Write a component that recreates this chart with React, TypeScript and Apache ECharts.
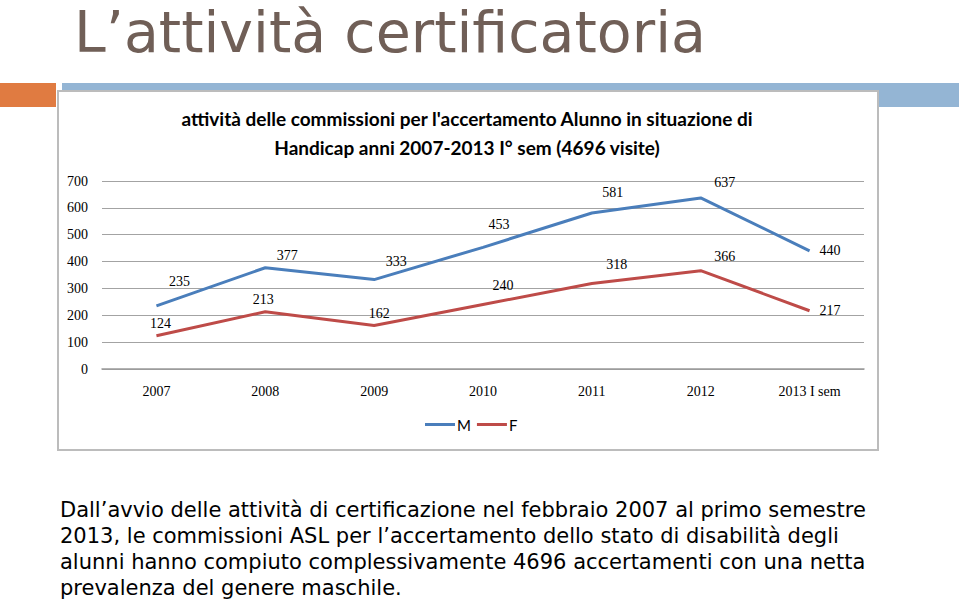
import React, { useEffect, useRef } from "react";
import * as echarts from "echarts";

const categories = ["2007", "2008", "2009", "2010", "2011", "2012", "2013 I sem"];
const valuesM = [235, 377, 333, 453, 581, 637, 440];
const valuesF = [124, 213, 162, 240, 318, 366, 217];
const seriesNames = ["M", "F"];
const yTicks = { min: 0, max: 700, interval: 100 };

const slideTitle = "L\u2019attivit\u00e0 certificatoria";
const chartTitleLines = [
  "attivit\u00e0 delle commissioni per l'accertamento Alunno in situazione di",
  "Handicap anni 2007-2013 I\u00b0 sem (4696 visite)",
];
const bodyLines = [
  "Dall\u2019avvio delle attivit\u00e0 di certificazione nel febbraio 2007 al primo semestre",
  "2013, le commissioni ASL per l\u2019accertamento dello stato di disabilit\u00e0 degli",
  "alunni hanno compiuto complessivamente 4696 accertamenti con una netta",
  "prevalenza del genere maschile.",
];

// label styling offsets (not data)
const labelOffsetM = [[23, -12], [22, 0], [22, -6], [16, -11], [21, -8], [24, -3], null];
const labelOffsetF = [[4, 0], [-2, 0], [5, 0], [20, -7], [25, -7], [24, -2], null];

const BLUE = "#4a7ebb";
const RED = "#be4b48";
const SERIF = "'Liberation Serif', 'DejaVu Serif', serif";

function buildData(values: number[], offsets: (number[] | null)[]) {
  return values.map((v, i) => {
    const off = offsets[i];
    if (off) {
      return { value: v, label: { position: "top", offset: off } };
    }
    return { value: v, label: { position: "right", distance: 10 } };
  });
}

export default function App() {
  const ref = useRef<HTMLDivElement>(null);
  useEffect(() => {
    document.body.style.margin = "0";
    const chart = echarts.init(ref.current!, null, { renderer: "svg" });
    const graphics: any[] = [
      { type: "rect", z: -20, shape: { x: 0, y: 83, width: 56, height: 24 }, style: { fill: "#e07b41" } },
      { type: "rect", z: -20, shape: { x: 62, y: 83, width: 897, height: 24 }, style: { fill: "#94b5d4" } },
      {
        type: "rect",
        z: -10,
        shape: { x: 58, y: 91, width: 820, height: 359 },
        style: { fill: "#ffffff", stroke: "#bcbcbc", lineWidth: 2 },
      },
      {
        type: "text",
        x: 74,
        y: 32,
        style: {
          text: slideTitle,
          font: "57px 'DejaVu Sans'",
          lineHeight: 57,
          fill: "#705f57",
          verticalAlign: "middle",
          align: "left",
        },
      },
      ...chartTitleLines.map((t, i) => ({
        type: "text",
        x: 467,
        y: 118 + i * 29,
        style: {
          text: t,
          font: "bold 19px Lato",
          fill: "#000",
          align: "center",
          verticalAlign: "middle",
        },
      })),
      ...bodyLines.map((t, i) => ({
        type: "text",
        x: 60,
        y: 510 + i * 26,
        style: {
          text: t,
          font: "21px 'DejaVu Sans'",
          fill: "#000",
          align: "left",
          verticalAlign: "middle",
        },
      })),
    ];

    chart.setOption({
      animation: false,
      backgroundColor: "#ffffff",
      graphic: graphics,
      legend: {
        data: seriesNames,
        left: 420,
        top: 412,
        itemWidth: 30,
        itemHeight: 3,
        itemGap: 6,
        icon: "rect",
        textStyle: { fontFamily: "Lato", fontSize: 15, color: "#000", padding: [0, 0, 0, -3] },
      },
      grid: { left: 102, right: 95, top: 181, bottom: 230, containLabel: false },
      xAxis: {
        type: "category",
        data: categories,
        boundaryGap: true,
        axisTick: { show: false },
        axisLine: { show: true, lineStyle: { color: "#9a9a9a", width: 1.5 } },
        axisLabel: { color: "#000", fontFamily: SERIF, fontSize: 14, margin: 15 },
      },
      yAxis: {
        type: "value",
        min: yTicks.min,
        max: yTicks.max,
        interval: yTicks.interval,
        axisLine: { show: false },
        axisTick: { show: false },
        splitLine: { lineStyle: { color: "#a3a3a3", width: 1.2 } },
        axisLabel: { color: "#000", fontFamily: SERIF, fontSize: 14, margin: 14 },
      },
      series: [
        {
          name: seriesNames[0],
          type: "line",
          data: buildData(valuesM, labelOffsetM),
          symbol: "circle",
          symbolSize: 0.1,
          showSymbol: true,
          lineStyle: { color: BLUE, width: 3 },
          itemStyle: { color: BLUE },
          label: { show: true, color: "#000", fontFamily: SERIF, fontSize: 14 },
        },
        {
          name: seriesNames[1],
          type: "line",
          data: buildData(valuesF, labelOffsetF),
          symbol: "circle",
          symbolSize: 0.1,
          showSymbol: true,
          lineStyle: { color: RED, width: 3 },
          itemStyle: { color: RED },
          label: { show: true, color: "#000", fontFamily: SERIF, fontSize: 14 },
        },
      ],
    });
    return () => chart.dispose();
  }, []);
  return <div ref={ref} style={{ position: "fixed", left: 0, top: 0, width: 959, height: 599 }} />;
}
